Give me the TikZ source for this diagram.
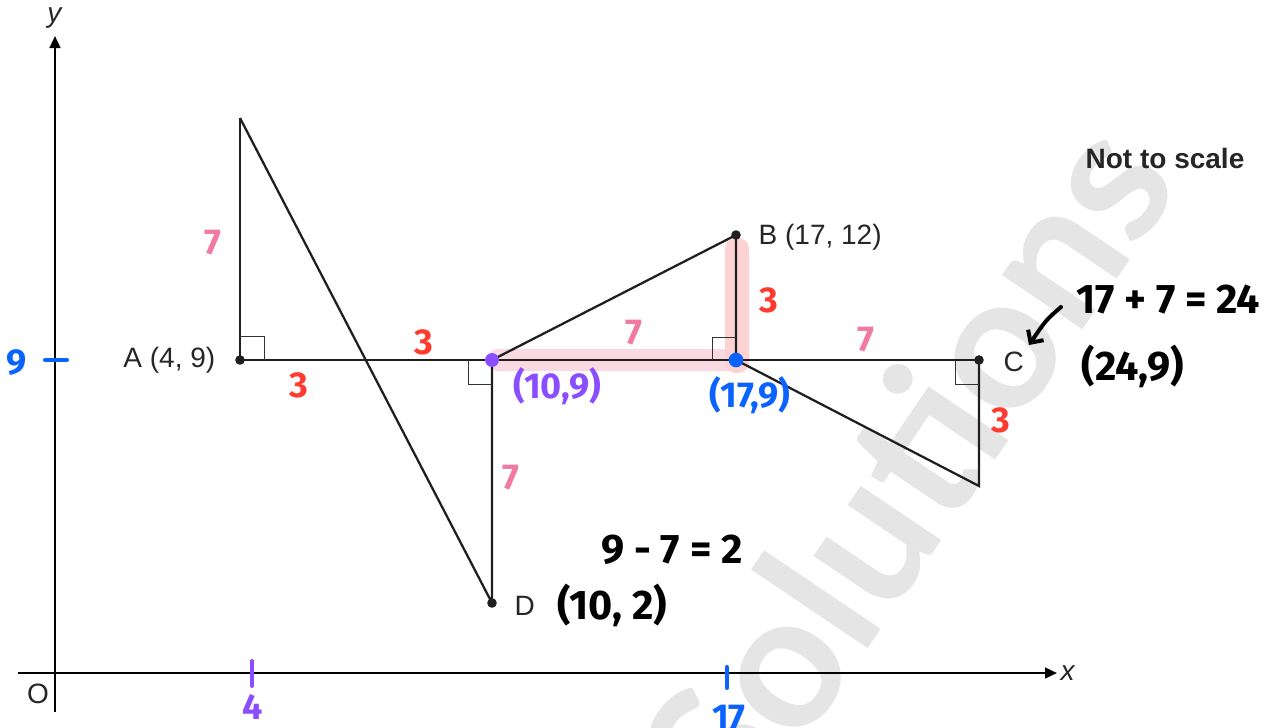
\documentclass[tikz,border=0pt]{standalone}
\usepackage{fontspec}
\setmainfont{Liberation Sans}
\newfontfamily\handfont{Fira Sans}
\newfontfamily\wmfont{Lato}
\usetikzlibrary{arrows.meta,calc}
\definecolor{penpink}{HTML}{F27AA1}
\definecolor{penred}{HTML}{FF3B30}
\definecolor{penpurple}{HTML}{8A4DFF}
\definecolor{penblue}{HTML}{0B63FF}
\definecolor{hlpink}{HTML}{F9D9E2}
\definecolor{hlred}{HTML}{FCD2D2}
\tikzset{>=Stealth,every node/.style={font=\fontsize{21}{24}\selectfont,text=black!85},
  edge/.style={line width=1.7pt,black!88},axis/.style={line width=1.8pt,-{Triangle[length=9pt,width=8pt]}},
  sqline/.style={line width=.7pt,black!80},
  hand/.style={font=\handfont\bfseries\fontsize{27}{30}\selectfont},
  bighand/.style={font=\handfont\bfseries\fontsize{31}{34}\selectfont,text=black},
  wmark/.style={rotate=56,text=black!10,font=\wmfont\bfseries\fontsize{142}{142}\selectfont}}
\newcommand{\sqmark}[3]{\draw[sqline] ($(#1)+(#2,0)$) -- ++(0,#3) -- ++({-(#2)},0);}

\begin{document}
\begin{tikzpicture}[x=.75pt,y=-.75pt]
\useasboundingbox (0,0) rectangle (1279,728);
\node[wmark] (wm) at (905,470) {Solutions};
% highlighter
\fill[hlpink,rounded corners=7pt] (488,349) rectangle (748,371);
\fill[hlred,rounded corners=8pt] (725,238) rectangle (749,373);
% axes
\coordinate (yb) at (55,712);\coordinate (yt) at (55,36);
\coordinate (xl) at (18,673);\coordinate (xr) at (1057,673);
\draw[axis] (yb)--(yt);\draw[axis] (xl)--(xr);
\node (ylab) at (55,18) {\textit{y}};\node (xlab) at (1068,673) {\textit{x}};
\node (olab) at (38,694) {O};
% points
\coordinate (A) at (240,360);\coordinate (P) at (240,118);
\coordinate (M) at (492,360);\coordinate (D) at (492,603);
\coordinate (N) at (736,360);\coordinate (B) at (736,235);
\coordinate (C) at (979,360);\coordinate (Q) at (979,486);
\draw[edge] (P)--(A)--(C);
\draw[edge] (P)--(D)--(M);
\draw[edge] (M)--(B)--(N)--(Q)--(C);
\sqmark{A}{24}{-24}\sqmark{M}{-24}{24}\sqmark{N}{-24}{-23}\sqmark{C}{-24}{24}
\foreach \p in {A,B,C,D} \fill[black!88] (\p) circle (3.6pt);
\fill[penpurple] (M) circle (5.2pt);\fill[penblue] (N) circle (5.5pt);
% printed labels
\node[anchor=east] (Alab) at (220,360) {A (4, 9)};
\node[anchor=west] (Blab) at (754,237) {B (17, 12)};
\node[anchor=west] (Clab) at (999,362) {C};
\node[anchor=west] (Dlab) at (510,606) {D};
\node[font=\bfseries\fontsize{21}{24}\selectfont] (note) at (1165,158) {Not to scale};
% ticks
\coordinate (t9a) at (45,360);\coordinate (t9b) at (67,360);
\draw[penblue,line width=3pt,line cap=round] (t9a)--(t9b);
\coordinate (t4a) at (252,661);\coordinate (t4b) at (252,686);
\draw[penpurple,line width=3pt,line cap=round] (t4a)--(t4b);
\coordinate (t17a) at (727,667);\coordinate (t17b) at (727,688);
\draw[penblue,line width=3pt,line cap=round] (t17a)--(t17b);
\node[hand,text=penblue] (nine) at (17,363) {9};
\node[hand,text=penpurple] (four) at (253,707) {4};
\node[hand,text=penblue] (svt) at (729,718) {17};
% sides
\node[hand,text=penpink] (s1) at (213,243) {7};
\node[hand,text=penpink] (s2) at (511,478) {7};
\node[hand,text=penpink] (s3) at (634,333) {7};
\node[hand,text=penpink] (s4) at (866,340) {7};
\node[hand,text=penred] (r1) at (424,342) {3};
\node[hand,text=penred] (r2) at (299,385) {3};
\node[hand,text=penred] (r3) at (769,300) {3};
\node[hand,text=penred] (r4) at (1001,420) {3};
\node[hand,text=penpurple] (mlab) at (557,386) {(10,9)};
\node[hand,text=penblue] (nlab) at (750,395) {(17,9)};
% working
\node[bighand] (sum) at (1168,300) {17 + 7 = 24};
\node[bighand] (clab) at (1133,366) {(24,9)};
\node[bighand] (diff) at (672,550) {9 - 7 = 2};
\node[bighand] (dlab) at (612,605) {(10, 2)};
\coordinate (ar1) at (1061,307);\coordinate (ar2) at (1029,345);
\draw[line width=3pt,line cap=round,-{Straight Barb[length=7pt,width=14pt]}] (ar1) .. controls (1046,320) .. (ar2);
\end{tikzpicture}
\end{document}
